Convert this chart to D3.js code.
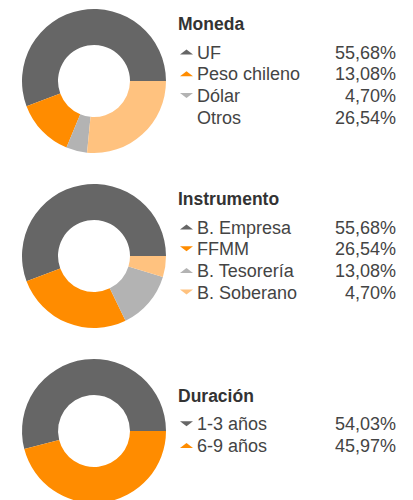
<!DOCTYPE html>
<html><head><meta charset="utf-8">
<script src="https://cdn.jsdelivr.net/npm/d3@7"></script>
<style>body{margin:0;background:#fff}svg{display:block}</style>
</head><body>
<script>
const groupTitles = ["Moneda", "Instrumento", "Duración"];
const monedaLabels = ["UF", "Peso chileno", "Dólar", "Otros"];
const monedaValues = [55.68, 13.08, 4.70, 26.54];
const monedaColors = ["#666666", "#ff8c00", "#b3b3b3", "#ffc27f"];
const monedaMarkers = ["up", "up", "down", "none"];
const instrumentoLabels = ["B. Empresa", "FFMM", "B. Tesorería", "B. Soberano"];
const instrumentoValues = [55.68, 26.54, 13.08, 4.70];
const instrumentoColors = ["#666666", "#ff8c00", "#b3b3b3", "#ffc27f"];
const instrumentoMarkers = ["up", "down", "up", "down"];
const duracionLabels = ["1-3 años", "6-9 años"];
const duracionValues = [54.03, 45.97];
const duracionColors = ["#666666", "#ff8c00"];
const duracionMarkers = ["down", "up"];

const groups = [
  {title: groupTitles[0], labels: monedaLabels, values: monedaValues, colors: monedaColors, markers: monedaMarkers},
  {title: groupTitles[1], labels: instrumentoLabels, values: instrumentoValues, colors: instrumentoColors, markers: instrumentoMarkers},
  {title: groupTitles[2], labels: duracionLabels, values: duracionValues, colors: duracionColors, markers: duracionMarkers}
];

const W = 413, H = 500;
const svg = d3.select("body").append("svg").attr("width", W).attr("height", H);
const cx = 94, outerR = 72, innerR = 36, rowH = 21.7;
const centers = [81, 256, 431];
const fmt = v => v.toFixed(2).replace(".", ",") + "%";

const pie = d3.pie().sort(null).startAngle(Math.PI / 2).endAngle(Math.PI / 2 - 2 * Math.PI);
const arc = d3.arc().innerRadius(innerR).outerRadius(outerR);

groups.forEach((g, gi) => {
  const cy = centers[gi];
  const gg = svg.append("g").attr("transform", `translate(${cx},${cy})`);
  gg.selectAll("path").data(pie(g.values)).join("path")
    .attr("d", arc).attr("fill", (d, i) => g.colors[i]);

  const n = g.labels.length;
  const titleY = cy - 51 + (4 - n) * rowH / 2;
  const lg = svg.append("g").attr("font-family", "'Liberation Sans', Arial, sans-serif");
  lg.append("text").attr("x", 178).attr("y", titleY)
    .attr("font-size", 17.5).attr("font-weight", "bold").attr("fill", "#333")
    .text(g.title);
  const y = d3.scalePoint().domain(d3.range(n)).range([titleY + 28.5, titleY + 28.5 + (n - 1) * rowH]);
  g.labels.forEach((lab, i) => {
    const by = y(i);
    const m = g.markers[i];
    if (m !== "none") {
      const ty = by - 6.5;
      const pts = m === "up"
        ? [[180, ty + 2.5], [186.5, ty - 2.5], [193, ty + 2.5]]
        : [[180, ty - 2.5], [186.5, ty + 2.5], [193, ty - 2.5]];
      lg.append("path").attr("d", d3.line()(pts) + "Z").attr("fill", g.colors[i]);
    }
    lg.append("text").attr("x", 197).attr("y", by).attr("font-size", 18).attr("fill", "#444").text(lab);
    lg.append("text").attr("x", 396).attr("y", by).attr("font-size", 18).attr("fill", "#444")
      .attr("text-anchor", "end").text(fmt(g.values[i]));
  });
});
</script>
</body></html>
